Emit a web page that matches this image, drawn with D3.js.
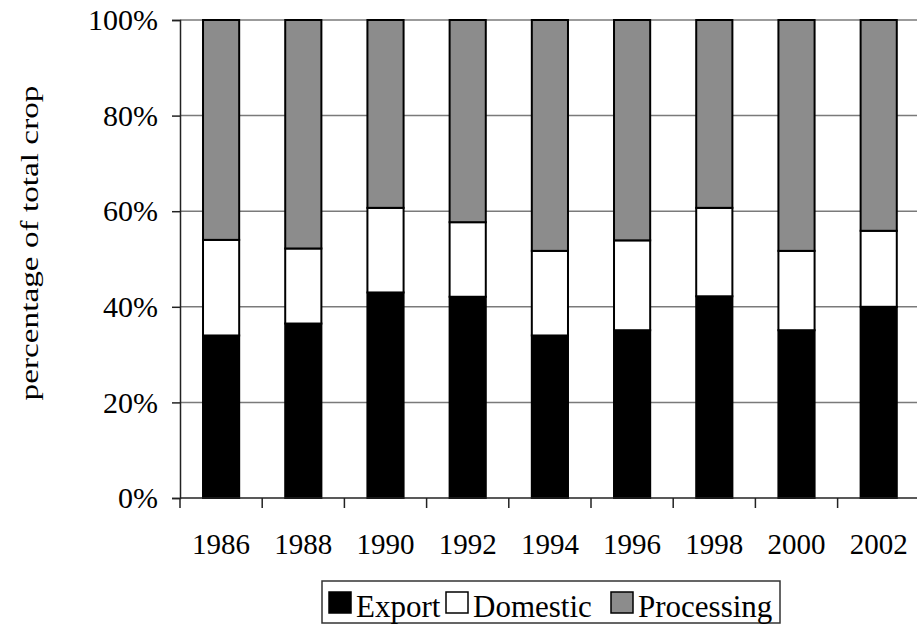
<!DOCTYPE html>
<html><head><meta charset="utf-8">
<script src="https://cdn.jsdelivr.net/npm/d3@7"></script>
<style>html,body{margin:0;padding:0;background:#fff;overflow:hidden}
svg text{font-family:"Liberation Serif","Times New Roman",Times,"DejaVu Serif",serif;}</style>
</head><body>
<svg id="c" width="917" height="626"></svg>
<script>
const years = ["1986","1988","1990","1992","1994","1996","1998","2000","2002"];
const exportShare     = [34.0, 36.5, 43.0, 42.1, 34.0, 35.1, 42.2, 35.1, 40.0];
const domesticShare   = [20.0, 15.7, 17.7, 15.6, 17.7, 18.8, 18.5, 16.6, 15.9];
const processingShare = [46.0, 47.8, 39.3, 42.3, 48.3, 46.1, 39.3, 48.3, 44.1];
const seriesNames = ["Export","Domestic","Processing"];
const seriesColors = ["#000000","#ffffff","#8c8c8c"];
const yTicks = [0,20,40,60,80,100];

(function(){
const svg = d3.select("#c");
const mLeft = 180, mRight = 180 + 9*82.2, mTop = 20, mBottom = 498;

const x0 = d3.scaleBand().domain(years).range([mLeft, mRight]).padding(0);
const x = d3.scaleBand().domain(years).range([mLeft, mRight]).paddingInner(0.56).paddingOuter(0.28);
const y = d3.scaleLinear().domain([0,100]).range([mBottom, mTop]);

// gridlines
svg.append("g").selectAll("line").data(yTicks.filter(t=>t>0)).join("line")
  .attr("x1", mLeft).attr("x2", 917).attr("y1", d=>y(d)).attr("y2", d=>y(d))
  .attr("stroke", "#7a7a7a").attr("stroke-width", 1.5);

// stack
const table = years.map((yr,i)=>({year:yr, Export:exportShare[i], Domestic:domesticShare[i], Processing:processingShare[i]}));
const stack = d3.stack().keys(seriesNames)(table);
svg.append("g").selectAll("g").data(stack).join("g")
  .attr("fill", (d,i)=>seriesColors[i])
  .selectAll("rect").data(d=>d).join("rect")
  .attr("x", d=>x(d.data.year)).attr("width", x.bandwidth())
  .attr("y", d=>y(d[1])).attr("height", d=>y(d[0])-y(d[1]))
  .attr("stroke", "#000").attr("stroke-width", 2);

// y axis
const yAxis = svg.append("g").attr("transform", `translate(${mLeft},0)`)
  .call(d3.axisLeft(y).tickValues(yTicks).tickFormat(d=>d+"%").tickSize(8).tickPadding(14));
yAxis.attr("font-family", null);
yAxis.select(".domain").attr("stroke","#222").attr("stroke-width",1.5);
yAxis.selectAll(".tick line").attr("stroke","#222").attr("stroke-width",1.5);
yAxis.selectAll("text").attr("font-size", 30).attr("fill","#000");

// x axis
svg.append("line").attr("x1", mLeft).attr("x2", 917).attr("y1", mBottom).attr("y2", mBottom)
  .attr("stroke","#222").attr("stroke-width",1.5);
const bounds = years.map(d=>x0(d));
svg.append("g").selectAll("line").data(bounds).join("line")
  .attr("x1", d=>d).attr("x2", d=>d).attr("y1", mBottom).attr("y2", mBottom+10)
  .attr("stroke","#222").attr("stroke-width",1.5);
svg.append("g").selectAll("text").data(years).join("text")
  .attr("x", d=>x0(d)+x0.bandwidth()/2).attr("y", 554)
  .attr("text-anchor","middle").attr("font-size", 29)
  .text(d=>d);

// y label
svg.append("text").attr("transform", "translate(38,243) rotate(-90)")
  .attr("text-anchor","middle").attr("font-size", 26)
  .attr("textLength", 315).attr("lengthAdjust", "spacingAndGlyphs")
  .text("percentage of total crop");

// legend
const lg = svg.append("g");
lg.append("rect").attr("x",322).attr("y",581).attr("width",458).attr("height",42)
  .attr("fill","#fff").attr("stroke","#333").attr("stroke-width",1.5);
const legendX = [329, 446, 611];
seriesNames.forEach((n,i)=>{
  lg.append("rect").attr("x", legendX[i]).attr("y", 592).attr("width", 22).attr("height", 21)
    .attr("fill", seriesColors[i]).attr("stroke","#000").attr("stroke-width",1.5);
  lg.append("text").attr("x", legendX[i]+27).attr("y", 617)
    .attr("font-size", 31).text(n);
});
})();
</script>
</body></html>
